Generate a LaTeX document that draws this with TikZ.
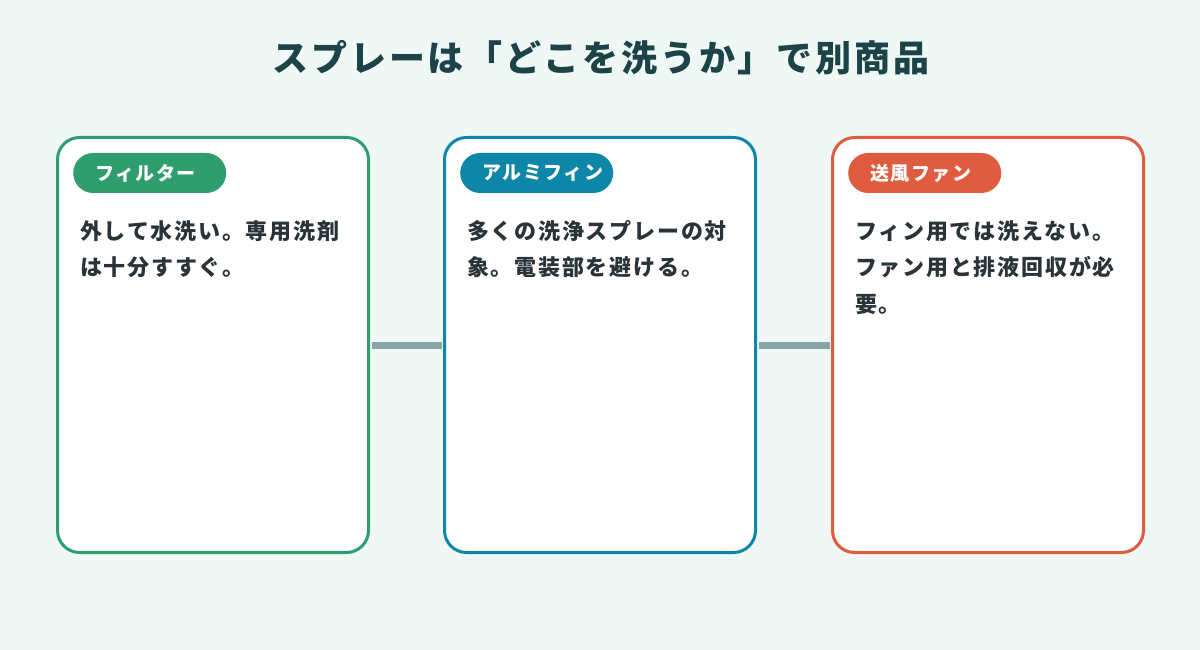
\documentclass[tikz,border=0pt]{standalone}
\usepackage{fontspec}
\setmainfont{Noto Sans CJK JP}
\newfontfamily\spaced{Noto Sans CJK JP}[LetterSpace=8]
\usepackage{tikz}
\usetikzlibrary{calc}

\definecolor{bgmint}{HTML}{EFF8F5}
\definecolor{filtergreen}{HTML}{2E9E6E}
\definecolor{finblue}{HTML}{0E86A8}
\definecolor{fanred}{HTML}{E05C40}
\definecolor{linkgray}{HTML}{88A4A8}
\definecolor{titleteal}{HTML}{1C4348}
\definecolor{bodytext}{HTML}{2A3438}

\begin{document}
\begin{tikzpicture}[x=1pt,y=-1pt,
  card/.style={draw=#1, fill=white, line width=3pt, rounded corners=22pt, minimum width=311pt, minimum height=415pt, inner sep=0pt},
  tag/.style={fill=#1, rounded corners=20pt, minimum width=153pt, minimum height=40pt, inner sep=0pt},
  tagtext/.style={text=white, font=\spaced\bfseries\fontsize{19}{19}\selectfont, inner sep=0pt},
  body/.style={text=bodytext, font=\spaced\bfseries\fontsize{22}{36.5}\selectfont, align=left, inner sep=0pt},
  link/.style={draw=linkgray, line width=7pt, shorten <=1.5pt, shorten >=1.5pt}]
\fill [bgmint] (0,0) rectangle (1200,650);
\useasboundingbox (0,0) rectangle (1200,650);

\node [text=titleteal, font=\spaced\bfseries\fontsize{36}{36}\selectfont, inner sep=0pt] (title) at (601,58) {スプレーは「どこを洗うか」で別商品};

\node [card=filtergreen] (filter) at (213,345) {};
\node [card=finblue] (fin) at (600,345) {};
\node [card=fanred] (fan) at (988,345) {};

\draw [link] (filter.east) -- (fin.west);
\draw [link] (fin.east) -- (fan.west);

\node [tag=filtergreen, anchor=west] (filtertag) at (73,173) {};
\node [tagtext, anchor=west] (filterlabel) at ([xshift=22pt]filtertag.west) {フィルター};
\node [tag=finblue, anchor=west] (fintag) at (460,173) {};
\node [tagtext, anchor=west] (finlabel) at ([xshift=22pt]fintag.west) {アルミフィン};
\node [tag=fanred, anchor=west] (fantag) at (848,173) {};
\node [tagtext, anchor=west] (fanlabel) at ([xshift=22pt]fantag.west) {送風ファン};

\node [body, anchor=north west] (filtertext) at (80,220) {外して水洗い。専用洗剤\\は十分すすぐ。};
\node [body, anchor=north west] (fintext) at (467,220) {多くの洗浄スプレーの対\\象。電装部を避ける。};
\node [body, anchor=north west] (fantext) at (855,220) {フィン用では洗えない。\\ファン用と排液回収が必\\要。};

\end{tikzpicture}
\end{document}
